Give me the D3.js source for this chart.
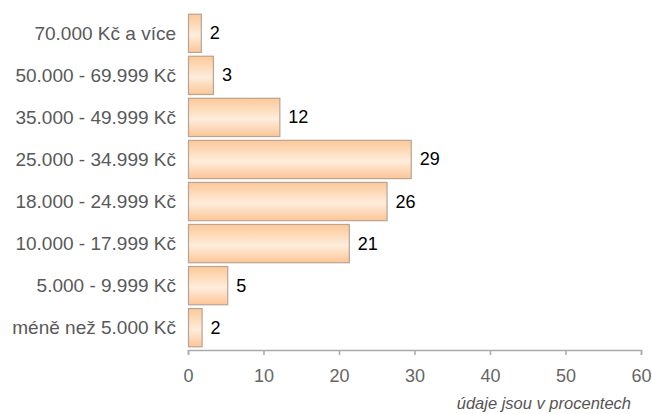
<!DOCTYPE html>
<html><head><meta charset="utf-8">
<script src="https://cdn.jsdelivr.net/npm/d3@7"></script>
<style>body{margin:0;background:#fff}svg{display:block}text{font-family:"Liberation Sans",Arial,sans-serif}</style>
</head><body><svg id="c" width="652" height="414"></svg>
<script>
const categories = ["70.000 Kč a více","50.000 - 69.999 Kč","35.000 - 49.999 Kč","25.000 - 34.999 Kč","18.000 - 24.999 Kč","10.000 - 17.999 Kč","5.000 - 9.999 Kč","méně než 5.000 Kč"];
const values = [1.7, 3.3, 12.1, 29.5, 26.3, 21.3, 5.2, 1.8];
const labels = ["2","3","12","29","26","21","5","2"];
const ticks = [0,10,20,30,40,50,60];
const note = "údaje jsou v procentech";

const svg = d3.select("#c");
const x = d3.scaleLinear().domain([0,60]).range([188,641]);
const y = d3.scaleBand().domain(categories).range([12,348]).paddingInner(0.09).paddingOuter(0.04);

const defs = svg.append("defs");
const g = defs.append("linearGradient").attr("id","bg").attr("x1",0).attr("y1",0).attr("x2",0).attr("y2",1);
g.append("stop").attr("offset","0%").attr("stop-color","#fdc898");
g.append("stop").attr("offset","55%").attr("stop-color","#feeddc");
g.append("stop").attr("offset","100%").attr("stop-color","#fdc596");

svg.append("g").selectAll("rect").data(categories).join("rect")
  .attr("x", x(0)+0.5)
  .attr("y", d=>y(d)+0.5)
  .attr("width", (d,i)=>x(values[i])-x(0))
  .attr("height", y.bandwidth())
  .attr("fill","url(#bg)")
  .attr("stroke","#b9a493").attr("stroke-width",1.2);

svg.append("g").selectAll("text").data(categories).join("text")
  .attr("x", (d,i)=>x(values[i])+9)
  .attr("y", d=>y(d)+y.bandwidth()/2)
  .attr("dy","0.36em").attr("font-size",18).attr("fill","#000")
  .text((d,i)=>labels[i]);

svg.append("g").selectAll("text").data(categories).join("text")
  .attr("x", 176).attr("y", d=>y(d)+y.bandwidth()/2)
  .attr("dy","0.36em").attr("text-anchor","end").attr("font-size",19).attr("fill","#595959")
  .text(d=>d);

const ax = svg.append("g").attr("transform","translate(0,350)")
  .call(d3.axisBottom(x).tickValues(ticks).tickSize(5).tickPadding(14).tickFormat(d3.format("d")));
ax.select(".domain").attr("stroke","#aaa").attr("stroke-width",1.5);
ax.selectAll(".tick line").attr("stroke","#aaa").attr("stroke-width",1.5);
ax.selectAll(".tick text").attr("font-size",18).attr("fill","#666").attr("font-family","'Liberation Sans',Arial,sans-serif");

svg.append("text").attr("x",631).attr("y",409).attr("text-anchor","end")
  .attr("font-size",16.5).attr("font-style","italic").attr("fill","#555").text(note);
</script></body></html>
